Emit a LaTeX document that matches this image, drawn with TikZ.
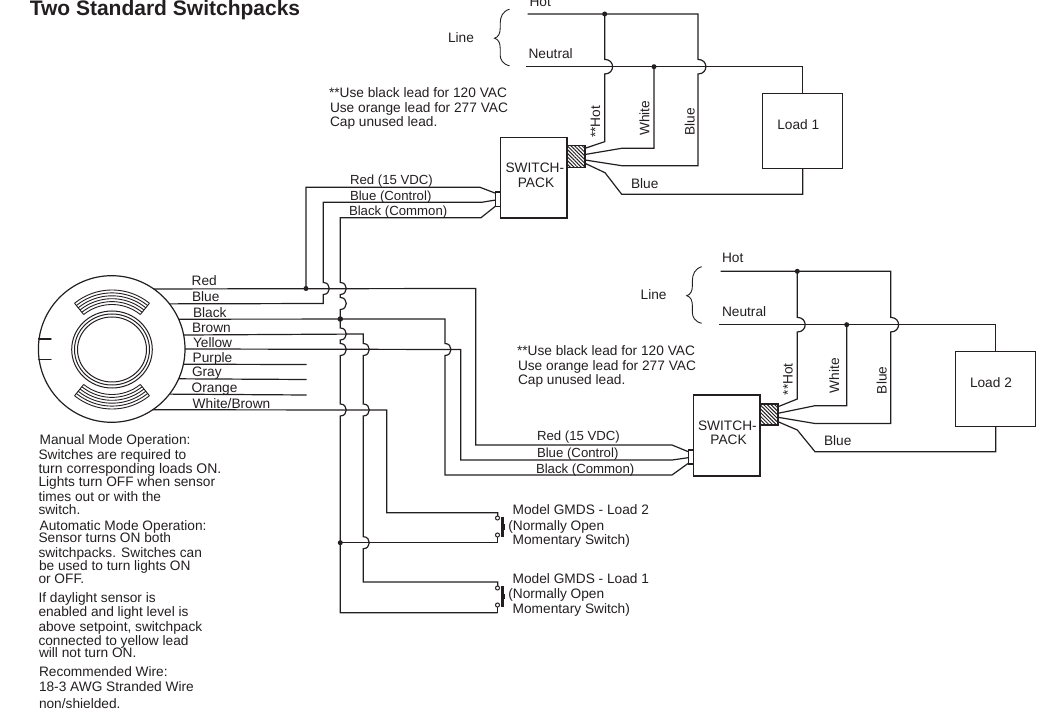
\documentclass[tikz,border=0pt]{standalone}
\usepackage{fontspec}
\setmainfont{Liberation Sans}
\usetikzlibrary{patterns.meta}
\definecolor{ink}{HTML}{231F20}
\def\hop#1#2{-- (#1,#2-6) .. controls (#1+8,#2-6) and (#1+8,#2+6) .. (#1,#2+6)}
\def\hopup#1#2{-- (#1,#2+6) .. controls (#1+8,#2+6) and (#1+8,#2-6) .. (#1,#2-6)}
\def\hopbig#1#2{-- (#1,#2-7.3) .. controls (#1+10.5,#2-7.3) and (#1+10.5,#2+7.3) .. (#1,#2+7.3)}
\tikzset{
  wire/.style={draw=ink,line width=1.2pt,line join=miter},
  boxnode/.style={draw=ink,line width=1.2pt,fill=white,inner sep=0pt,outer sep=0pt,rectangle},
  lbl/.style={anchor=base west,inner sep=0pt,outer sep=0pt,text=ink,font=\fontsize{13.7}{13.7}\selectfont},
  lbls/.style={lbl,font=\fontsize{13.2}{13.2}\selectfont},
  lblc/.style={anchor=base,inner sep=0pt,outer sep=0pt,text=ink,font=\fontsize{13.7}{13.7}\selectfont},
  lblv/.style={anchor=base east,rotate=90,inner sep=0pt,outer sep=0pt,text=ink,font=\fontsize{13.7}{13.7}\selectfont},
  dotnode/.style={circle,fill=ink,inner sep=0pt,outer sep=0pt,minimum size=5pt},
  hatchbox/.style={boxnode,pattern={Lines[angle=135,distance=2.6pt,line width=1pt]},pattern color=ink},
  termnode/.style={circle,draw=ink,line width=1pt,fill=white,inner sep=0pt,outer sep=0pt,minimum size=4pt},
  linebrace/.pic={\draw[ink,line width=.9pt] (0,0) .. controls (-7,2) and (-9.3,8) .. (-9.3,14) -- (-9.3,19) .. controls (-9.3,24) and (-11,28) .. (-15,29) .. controls (-11,30) and (-9.3,34) .. (-9.3,39) -- (-9.3,46) .. controls (-9.3,50) and (-7,55) .. (0,56.6);},
  momswitch/.pic={
    \draw[ink,line width=3pt] (4.6,4) -- (4.6,24.6);
    \fill[ink] (5,11.6) rectangle (7.6,17.4);
  },
}
\begin{document}
\begin{tikzpicture}[x=1pt,y=-1pt]
\useasboundingbox (0,0) rectangle (1045,711);
% sensor
\node[circle,draw=ink,line width=1.2pt,minimum size=146.6pt,inner sep=0pt,outer sep=0pt] (sensor) at (111.7,349) {};
\foreach \ry/\rx in {38.5/40.3,35.5/37.5,32.5/34.5}
  \draw[ink,line width=1pt] (112,349.5) ellipse[x radius=\rx,y radius=\ry];
\foreach \r in {45,47.9,50.8,53.7,56.6,59.5}{
  \draw[ink,line width=.9pt] plot[smooth,domain=51:129,samples=16] ({112+\r*cos(\x)},{349.5-\r*sin(\x)});
  \draw[ink,line width=.9pt] plot[smooth,domain=51:129,samples=16] ({112+\r*cos(\x)},{349.5+\r*sin(\x)});
}
\foreach \s in {-1,1}{
  \draw[ink,line width=.9pt] ({112+\s*45*cos(129)},{349.5-45*sin(129)}) -- ({112+\s*59.5*cos(129)},{349.5-59.5*sin(129)});
  \draw[ink,line width=.9pt] ({112+\s*45*cos(129)},{349.5+45*sin(129)}) -- ({112+\s*59.5*cos(129)},{349.5+59.5*sin(129)});
}
\draw[ink,line width=1.4pt,line cap=round] (38.6,339) -- (51,339);
\draw[ink,line width=1.4pt,line cap=round] (38.6,359.3) -- (51,359.3);
% boxes
\node[boxnode,minimum width=66.3pt,minimum height=80.5pt] (packA) at (533.85,177.75) {};
\node[boxnode,minimum width=5pt,minimum height=14.7pt] (connA) at (498.2,199.35) {};
\node[hatchbox,minimum width=18pt,minimum height=21.6pt] (hatchA) at (576,156.5) {};
\node[boxnode,minimum width=80pt,minimum height=75.4pt] (loadA) at (802.7,131) {};
\node[boxnode,minimum width=66.7pt,minimum height=81pt] (packB) at (726.65,435.5) {};
\node[boxnode,minimum width=5pt,minimum height=14pt] (connB) at (690.8,457) {};
\node[hatchbox,minimum width=18pt,minimum height=21pt] (hatchB) at (769,414.5) {};
\node[boxnode,minimum width=80pt,minimum height=75pt] (loadB) at (995.7,388.8) {};
% sensor wires
\coordinate (jRed) at (306,288.5);
\coordinate (jBlack) at (340.3,319);
\coordinate (jSw) at (340.3,542.7);
\draw[wire] (sensor.55.6) -- (475.7,288.5) -- (475.7,445) -- (672,445) -- (connB.west |- 0,451.7);
\draw[wire] (jRed) -- (306,187.3) -- (480,187.3) -- (connA.west |- 0,193.3);
\draw[wire] (sensor.38.4) -- (323.3,303.5) \hopup{323.3}{288.5} -- (323.3,202.3) -- (481.7,202.3) -- (connA.west |- 0,200);
\draw[wire] (sensor.24.2) -- (445,319) \hop{445}{349.5} -- (445,475) -- (672,475) -- (connB.west |- 0,463.3);
\draw[wire] (497.7,612.7) -- (340.3,612.7) \hopup{340.3}{410} \hopup{340.3}{349.5} \hopup{340.3}{334} -- (jBlack) \hopup{340.3}{303.5} \hopup{340.3}{288.5} -- (340.3,217.7) -- (481,217.7) -- (connA.west |- 0,206);
\draw[wire] (sensor.11.8) -- (363.3,334) \hop{363.3}{349.5} \hop{363.3}{410} \hop{363.3}{542.7} -- (363.3,582) -- (497.7,582) -- (497.7,586);
\draw[wire] (sensor.0) -- (460.7,349.5) -- (460.7,460) -- (672,460) -- (connB.west |- 0,457.7);
\draw[wire] (sensor.-12.2) -- (306.7,364.5);
\draw[wire] (sensor.-24.6) -- (306.7,379.5);
\draw[wire] (sensor.-38.9) -- (306.7,395);
\draw[wire] (sensor.-56.3) -- (386.7,410) -- (386.7,512.7) -- (497.7,512.7) -- (497.7,516);
\draw[wire] (jSw) -- (497.7,542.7) -- (497.7,537);
\draw[wire] (497.7,612.7) -- (497.7,607);
% pack A line wires
\coordinate (hotA) at (604.7,14);
\coordinate (whtA) at (654,66.7);
\draw[wire] (527.7,14) -- (698,14) \hopbig{698}{66.7} -- (698,165.7) -- (621.7,165.7) -- (hatchA.east |- 0,160);
\draw[wire] (525.7,66.7) -- (802.7,66.7) -- (loadA.north);
\draw[wire] (hotA) \hopbig{604.7}{66.7} -- (604.7,141.7) -- (hatchA.east |- 0,148.3);
\draw[wire] (whtA) -- (654,148.3) -- (621.7,148.3) -- (hatchA.east |- 0,154.5);
\draw[wire] (hatchA.east |- 0,163.3) -- (605,172.7) -- (621.7,194.3) -- (802.7,194.3) -- (loadA.south);
% pack B line wires
\coordinate (hotB) at (797.3,271.3);
\coordinate (whtB) at (846.7,324.7);
\draw[wire] (720.7,271.3) -- (890.7,271.3) \hopbig{890.7}{324.7} -- (890.7,423.5) -- (815,423.5) -- (hatchB.east |- 0,417.3);
\draw[wire] (719,324.7) -- (995.7,324.7) -- (loadB.north);
\draw[wire] (hotB) \hopbig{797.3}{324.7} -- (797.3,399) -- (hatchB.east |- 0,406.7);
\draw[wire] (whtB) -- (846.7,405.7) -- (815,405.7) -- (hatchB.east |- 0,413.3);
\draw[wire] (hatchB.east |- 0,421.7) -- (797.3,430) -- (815,451.7) -- (995.7,451.7) -- (loadB.south);
% dots
\node[dotnode] at (jRed) {};
\node[dotnode,minimum size=5.5pt] at (jBlack) {};
\node[dotnode] at (jSw) {};
\node[dotnode] at (hotA) {};
\node[dotnode] at (whtA) {};
\node[dotnode] at (hotB) {};
\node[dotnode] at (whtB) {};
% switches
\pic at (497.7,512.7) {momswitch};
\pic at (497.7,582) {momswitch};
\node[termnode] (t1) at (497.5,518) {};
\node[termnode] (t2) at (497.5,535) {};
\node[termnode] (t3) at (497.5,588) {};
\node[termnode] (t4) at (497.5,605) {};
% braces
\pic at (509.5,9.2) {linebrace};
\pic at (701.7,266.7) {linebrace};
% title
\node[anchor=base west,inner sep=0pt,text=ink,font=\bfseries\fontsize{21}{21}\selectfont] (title) at (29.6,15.4) {Two Standard Switchpacks};
% sensor labels
\node[lbl] at (191.7,285.5) {Red};
\node[lbl] at (192,301.7) {Blue};
\node[lbl] at (193,318) {Black};
\node[lbl] at (192,333) {Brown};
\node[lbl] at (193,348) {Yellow};
\node[lbl] at (192.7,362.2) {Purple};
\node[lbl] at (192,377) {Gray};
\node[lbl] at (191.7,392.5) {Orange};
\node[lbl] at (192.7,408.8) {White/Brown};
% pack A labels
\node[lbls] at (350,184.5) {Red (15 VDC)};
\node[lbls] at (350,200.8) {Blue (Control)};
\node[lbls] at (349,215.8) {Black (Common)};
\node[lblc] at (534.8,172.7) {SWITCH-};
\node[lblc] at (536,187.3) {PACK};
\node[lbl] at (631,188.5) {Blue};
\node[lbl] at (777.3,130) {Load 1};
\node[lbl] at (529.6,7) {Hot};
\node[lbl] at (528.6,58.7) {Neutral};
\node[lbl] at (448,42.7) {Line};
\node[lbl] at (329,98) {**Use black lead for 120 VAC};
\node[lbl] at (330,112.5) {Use orange lead for 277 VAC};
\node[lbl] at (330,127) {Cap unused lead.};
\node[lblv] at (600,106) {**Hot};
\node[lblv] at (649.3,100.7) {White};
\node[lblv] at (694.7,108.3) {Blue};
% pack B labels
\node[lbls] at (537,441) {Red (15 VDC)};
\node[lbls] at (537,457.8) {Blue (Control)};
\node[lbls] at (536,473) {Black (Common)};
\node[lblc] at (727.4,430.5) {SWITCH-};
\node[lblc] at (728.6,445) {PACK};
\node[lbl] at (824,445.7) {Blue};
\node[lbl] at (970,388) {Load 2};
\node[lbl] at (722,263) {Hot};
\node[lbl] at (722,316.7) {Neutral};
\node[lbl] at (640.7,300) {Line};
\node[lbl] at (517,356) {**Use black lead for 120 VAC};
\node[lbl] at (518,370.7) {Use orange lead for 277 VAC};
\node[lbl] at (518,385) {Cap unused lead.};
\node[lblv] at (792.7,363.3) {**Hot};
\node[lblv] at (839,358) {White};
\node[lblv] at (886.7,366.7) {Blue};
% switch labels
\node[lbl] at (512.7,514.5) {Model GMDS - Load 2};
\node[lbl] at (508.3,530.7) {(Normally Open};
\node[lbl] at (512.7,544.5) {Momentary Switch)};
\node[lbl] at (512.7,583.5) {Model GMDS - Load 1};
\node[lbl] at (508.3,598.7) {(Normally Open};
\node[lbl] at (512.7,613) {Momentary Switch)};
% notes
\node[lbl] at (39.7,445) {Manual Mode Operation:};
\node[lbl] at (38.5,460) {Switches are required to};
\node[lbl,font=\fontsize{14}{14}\selectfont] at (38.5,473.3) {turn corresponding loads ON.};
\node[lbl] at (38.5,486.7) {Lights turn OFF when sensor};
\node[lbl] at (38.5,501) {times out or with the};
\node[lbl] at (38.5,514.3) {switch.};
\node[lbl] at (39.7,530) {Automatic Mode Operation:};
\node[lbl] at (38.5,542.7) {Sensor turns ON both};
\node[lbl] at (38.5,557) {switchpacks. Switches can};
\node[lbl] at (39,570.7) {be used to turn lights ON};
\node[lbl] at (38.5,583.7) {or OFF.};
\node[lbl] at (38.5,602.7) {If daylight sensor is};
\node[lbl] at (38.5,616.7) {enabled and light level is};
\node[lbl] at (38.5,631) {above setpoint, switchpack};
\node[lbl] at (38.5,645) {connected to yellow lead};
\node[lbl] at (39,657.7) {will not turn ON.};
\node[lbl] at (39,676.7) {Recommended Wire:};
\node[lbl] at (39,691.7) {18-3 AWG Stranded Wire};
\node[lbl] at (39,708) {non/shielded.};
\end{tikzpicture}
\end{document}
